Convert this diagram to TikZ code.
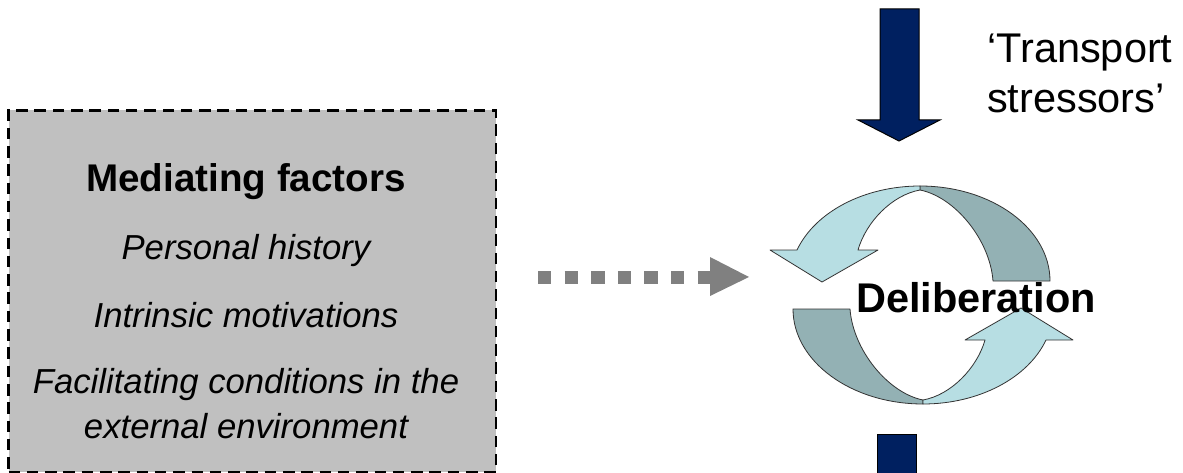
\documentclass[tikz,border=0pt]{standalone}
\usepackage{fontspec}
\setmainfont{Liberation Sans}
\usetikzlibrary{calc}
\definecolor{boxgray}{HTML}{C0C0C0}
\definecolor{arrgray}{HTML}{808080}
\definecolor{navy}{HTML}{002060}
\definecolor{lightcyan}{HTML}{B7DEE3}
\definecolor{darkteal}{HTML}{93B1B4}
\definecolor{ribbonline}{HTML}{333333}
\tikzset{
  mfbox/.style={draw=black, fill=boxgray, line width=2.5pt, dash pattern=on 11.5pt off 6.8pt, minimum width=487.5pt, minimum height=361.7pt, inner sep=0pt},
  headtxt/.style={font=\fontsize{38.6}{44}\selectfont\bfseries, anchor=base, inner sep=0pt},
  itemtxt/.style={font=\fontsize{34.7}{40}\selectfont\itshape, anchor=base, inner sep=0pt},
  stresstxt/.style={font=\fontsize{41.5}{48}\selectfont, anchor=base west, inner sep=0pt},
  deltxt/.style={font=\fontsize{41.5}{48}\selectfont\bfseries, anchor=base, inner sep=0pt},
  ribbondark/.style={fill=darkteal, draw=ribbonline, line width=0.8pt, line join=round},
  ribbonlight/.style={fill=lightcyan, draw=ribbonline, line width=0.8pt, line join=round},
  bluearrow/.style={fill=navy, draw=black, line width=1pt},
  dotshaft/.style={draw=arrgray, line width=13pt, dash pattern=on 13.3pt off 13.3pt},
  dothead/.style={fill=arrgray, draw=none}
}
\begin{document}
\begin{tikzpicture}[x=1pt, y=-1pt]
\clip (0,0) rectangle (1183,473);
% Mediating factors box
\node[mfbox] (mf) at (252.25,291.15) {};
\node[headtxt] (mfhead) at (246,192) {Mediating factors};
\node[itemtxt] (mf1) at (246,259) {Personal history};
\node[itemtxt] (mf2) at (246,327) {Intrinsic motivations};
\node[itemtxt] (mf3) at (246,393) {Facilitating conditions in the};
\node[itemtxt] (mf4) at (246,438) {external environment};
% dotted arrow
\coordinate (dstart) at (538,277);
\coordinate (dend) at (711,277);
\draw[dotshaft] (dstart) -- (dend);
\fill[dothead] (710,257) -- (749,277) -- (710,296) -- cycle;
% top blue arrow
\draw[bluearrow] (880,9) -- (919,9) -- (919,120) -- (940,120) -- (899,141) -- (858,120) -- (880,120) -- cycle;
% bottom blue arrow (cut by the edge)
\draw[bluearrow] (877,434) rectangle (916,490);
% transport stressors
\node[stresstxt] (ts1) at (987,63) {‘Transport};
\node[stresstxt] (ts2) at (987,113) {stressors’};
% cycle arrows
\foreach \ang in {0,180}{
\begin{scope}[rotate around={\ang:(921.5,295)}]
\draw[ribbondark] (1050,281) .. controls (1050,228.6) and (991.8,186) .. (920,186)
  -- (920,190) .. controls (955,197) and (990,240) .. (993,281) -- cycle;
\draw[ribbonlight] (920,186) .. controls (864.5,186) and (815.2,211.7) .. (797,250)
  -- (770,250) -- (822,282) -- (878,250) -- (858,250)
  .. controls (866,222) and (892,195) .. (920,190) -- cycle;
\end{scope}
}
\node[deltxt] (delib) at (976,312) {Deliberation};
\end{tikzpicture}
\end{document}
